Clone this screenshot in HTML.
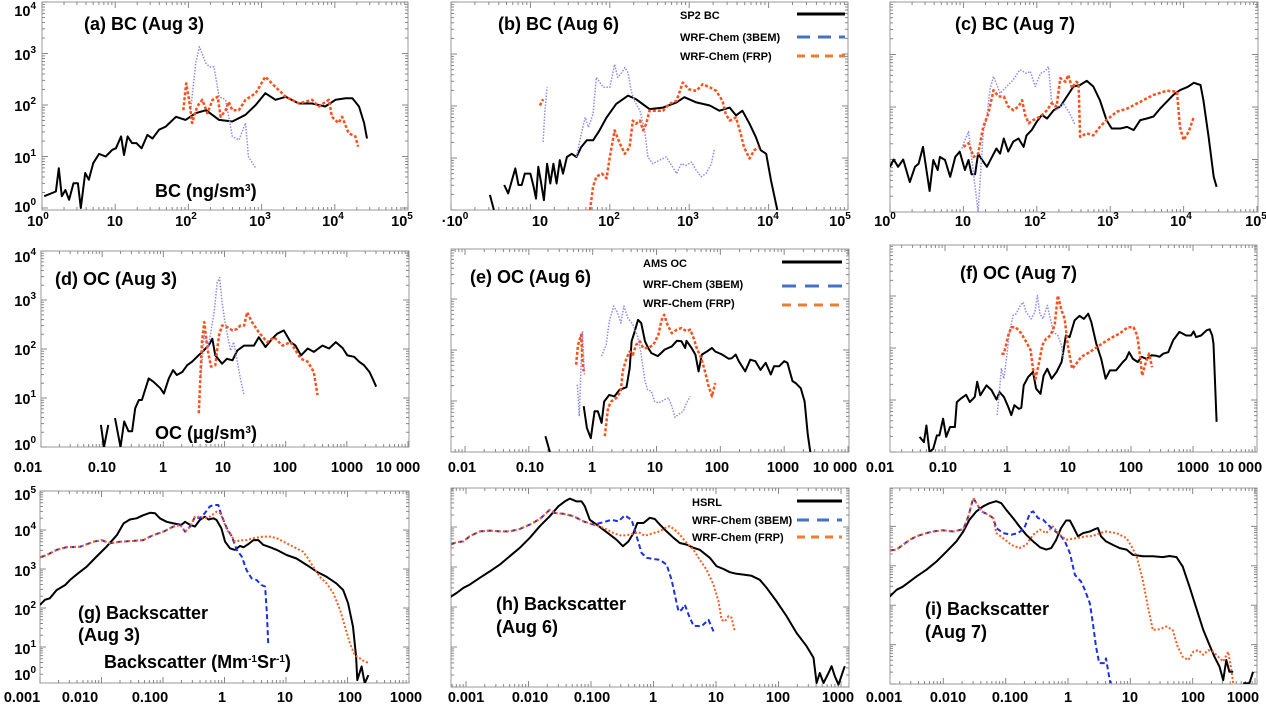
<!DOCTYPE html>
<html><head><meta charset="utf-8"><style>
html,body{margin:0;padding:0;background:#fff;}
svg{display:block;font-family:"Liberation Sans",Arial,sans-serif;}
.t{font-weight:bold;font-size:18px;fill:#000;}
.tk{font-weight:bold;font-size:14.5px;fill:#000;}
.lg{font-weight:bold;font-size:11px;fill:#000;}
</style></head><body>
<svg id="fig" width="1266" height="707" viewBox="0 0 1266 707" xmlns="http://www.w3.org/2000/svg">
<g id="marks"></g>
<!-- titles -->
<text class="t" x="84" y="30">(a) BC (Aug 3)</text>
<text class="t" x="498" y="30">(b) BC (Aug 6)</text>
<text class="t" x="955" y="30">(c) BC (Aug 7)</text>
<text class="t" x="55" y="285">(d) OC (Aug 3)</text>
<text class="t" x="470" y="283">(e) OC (Aug 6)</text>
<text class="t" x="960" y="279">(f) OC (Aug 7)</text>
<g><text class="t" x="78" y="619">(g) Backscatter</text><text class="t" x="78" y="641">(Aug 3)</text></g>
<g><text class="t" x="496" y="610">(h) Backscatter</text><text class="t" x="496" y="633">(Aug 6)</text></g>
<g><text class="t" x="925" y="615">(i) Backscatter</text><text class="t" x="925" y="638">(Aug 7)</text></g>
<text class="t" x="155" y="197" font-size="16">BC (ng/sm<tspan dy="-6" font-size="10">3</tspan><tspan dy="6">)</tspan></text>
<text class="t" x="155" y="439" font-size="16">OC (µg/sm<tspan dy="-6" font-size="10">3</tspan><tspan dy="6">)</tspan></text>
<text class="t" x="104" y="668" font-size="16">Backscatter (Mm<tspan dy="-6" font-size="10">-1</tspan><tspan dy="6">Sr</tspan><tspan dy="-6" font-size="10">-1</tspan><tspan dy="6">)</tspan></text>
<!-- legends -->
<g>
<text class="lg" x="680" y="19">SP2 BC</text><line x1="797" y1="14" x2="845" y2="14" stroke="#000" stroke-width="3"/>
<text class="lg" x="680" y="41">WRF-Chem (3BEM)</text><line x1="797" y1="37" x2="845" y2="37" stroke="#4472c4" stroke-width="3" stroke-dasharray="13,8"/>
<text class="lg" x="680" y="60">WRF-Chem (FRP)</text><line x1="797" y1="56" x2="845" y2="56" stroke="#ed7d31" stroke-width="3" stroke-dasharray="8,6"/>
</g>
<g>
<text class="lg" x="643" y="267" font-size="12">AMS OC</text><line x1="782" y1="262" x2="842" y2="262" stroke="#000" stroke-width="3"/>
<text class="lg" x="643" y="288" font-size="12">WRF-Chem (3BEM)</text><line x1="782" y1="286" x2="842" y2="286" stroke="#4472c4" stroke-width="3" stroke-dasharray="14,9"/>
<text class="lg" x="643" y="307" font-size="12">WRF-Chem (FRP)</text><line x1="782" y1="305" x2="842" y2="305" stroke="#ed7d31" stroke-width="3" stroke-dasharray="9,7"/>
</g>
<g>
<text class="lg" x="692" y="506">HSRL</text><line x1="797" y1="501" x2="842" y2="501" stroke="#000" stroke-width="3"/>
<text class="lg" x="692" y="524">WRF-Chem (3BEM)</text><line x1="797" y1="520" x2="842" y2="520" stroke="#4472c4" stroke-width="3" stroke-dasharray="12,8"/>
<text class="lg" x="692" y="541">WRF-Chem (FRP)</text><line x1="797" y1="537" x2="842" y2="537" stroke="#ed7d31" stroke-width="3" stroke-dasharray="8,6"/>
</g>
<!-- x tick labels -->
<g class="tk" text-anchor="middle">
<text x="38" y="226">10<tspan dy="-7" font-size="10">0</tspan></text><text x="115" y="226">10</text><text x="186" y="226">10<tspan dy="-7" font-size="10">2</tspan></text><text x="260" y="226">10<tspan dy="-7" font-size="10">3</tspan></text><text x="333" y="226">10<tspan dy="-7" font-size="10">4</tspan></text><text x="402" y="226">10<tspan dy="-7" font-size="10">5</tspan></text>
<text x="455" y="226">·10<tspan dy="-7" font-size="10">0</tspan></text><text x="540" y="226">10</text><text x="609" y="226">10<tspan dy="-7" font-size="10">2</tspan></text><text x="688" y="226">10<tspan dy="-7" font-size="10">3</tspan></text><text x="768" y="226">10<tspan dy="-7" font-size="10">4</tspan></text><text x="840" y="226">10<tspan dy="-7" font-size="10">5</tspan></text>
<text x="885" y="226">10<tspan dy="-7" font-size="10">0</tspan></text><text x="963" y="226">10</text><text x="1035" y="226">10<tspan dy="-7" font-size="10">2</tspan></text><text x="1108" y="226">10<tspan dy="-7" font-size="10">3</tspan></text><text x="1181" y="226">10<tspan dy="-7" font-size="10">4</tspan></text><text x="1256" y="226">10<tspan dy="-7" font-size="10">5</tspan></text>
</g>
<g class="tk" text-anchor="middle">
<text x="28" y="472">0.01</text><text x="102" y="472">0.10</text><text x="163" y="472">1</text><text x="223" y="472">10</text><text x="285" y="472">100</text><text x="347" y="472">1000</text><text x="398" y="472">10 000</text>
<text x="462" y="472">0.01</text><text x="530" y="472">0.10</text><text x="592" y="472">1</text><text x="655" y="472">10</text><text x="717" y="472">100</text><text x="783" y="472">1000</text><text x="835" y="472">10 000</text>
<text x="880" y="472">0.01</text><text x="943" y="472">0.10</text><text x="1007" y="472">1</text><text x="1068" y="472">10</text><text x="1131" y="472">100</text><text x="1193" y="472">1000</text><text x="1240" y="472">10 000</text>
</g>
<g class="tk" text-anchor="middle">
<text x="22" y="702">0.001</text><text x="80" y="702">0.010</text><text x="150" y="702">0.100</text><text x="222" y="702">1</text><text x="285" y="702">10</text><text x="350" y="702">100</text><text x="406" y="702">1000</text>
<text x="466" y="702">0.001</text><text x="530" y="702">0.010</text><text x="592" y="702">0.100</text><text x="653" y="702">1</text><text x="716" y="702">10</text><text x="778" y="702">100</text><text x="838" y="702">1000</text>
<text x="884" y="702">0.001</text><text x="948" y="702">0.010</text><text x="1010" y="702">0.100</text><text x="1068" y="702">1</text><text x="1130" y="702">10</text><text x="1193" y="702">100</text><text x="1243" y="702">1000</text>
</g>
<!-- y tick labels -->
<g class="tk" text-anchor="end">
<text x="36" y="16">10<tspan dy="-7" font-size="10">4</tspan></text><text x="36" y="60">10<tspan dy="-7" font-size="10">3</tspan></text><text x="36" y="111">10<tspan dy="-7" font-size="10">2</tspan></text><text x="36" y="163">10<tspan dy="-7" font-size="10">1</tspan></text><text x="36" y="212">10<tspan dy="-7" font-size="10">0</tspan></text>
</g>
<g class="tk" text-anchor="end">
<text x="36" y="262">10<tspan dy="-7" font-size="10">4</tspan></text><text x="36" y="306">10<tspan dy="-7" font-size="10">3</tspan></text><text x="36" y="355">10<tspan dy="-7" font-size="10">2</tspan></text><text x="36" y="404">10<tspan dy="-7" font-size="10">1</tspan></text><text x="36" y="450">10<tspan dy="-7" font-size="10">0</tspan></text>
</g>
<g class="tk" text-anchor="end">
<text x="36" y="500">10<tspan dy="-7" font-size="10">5</tspan></text><text x="36" y="536">10<tspan dy="-7" font-size="10">4</tspan></text><text x="36" y="576">10<tspan dy="-7" font-size="10">3</tspan></text><text x="36" y="615">10<tspan dy="-7" font-size="10">2</tspan></text><text x="36" y="654">10<tspan dy="-7" font-size="10">1</tspan></text><text x="36" y="680">10<tspan dy="-7" font-size="10">0</tspan></text>
</g>
</svg>
<script>
// ===== DATA (log10 x, log10 y; null = gap) =====
const a_obs_lx=[0.03,0.19,0.23,0.27,0.32,0.37,0.43,0.49,0.53,0.59,0.64,0.70,0.78,0.87,0.96,1.01,1.08,1.12,1.17,1.23,1.29,1.36,1.44,1.51,1.6,1.69,1.83,1.96,2.1,2.24,2.42,2.6,2.78,2.92,3.05,3.19,3.33,3.51,3.69,3.87,4.01,4.15,4.24,4.33,4.4,4.44];
const a_obs_ly=[0.23,0.32,0.77,0.23,0.35,0.16,0.48,0.48,0.0,0.68,0.55,0.87,1.05,1.0,1.13,1.16,1.39,1.03,1.39,1.26,1.26,1.16,1.42,1.35,1.52,1.58,1.77,1.71,1.84,1.9,1.71,1.68,1.81,2.0,2.23,2.1,2.16,2.03,2.03,1.97,2.1,2.13,2.13,1.97,1.65,1.35];
const a_3bem_lx=[2.03,2.1,2.15,2.24,2.29,2.35,2.42,2.51,2.6,2.69,2.78,2.82,2.92];
const a_3bem_ly=[1.9,2.81,3.13,2.81,2.74,2.74,2.16,2.1,1.39,1.32,1.65,1.0,0.77];
const a_frp_lx=[1.93,1.97,2.01,2.05,2.12,2.19,2.26,2.33,2.4,2.44,2.51,2.55,2.6,2.69,2.78,2.92,3.05,3.19,3.33,3.51,3.69,3.78,3.92,3.96,4.05,4.1,4.19,4.28,4.32];
const a_frp_ly=[1.9,2.42,2.1,1.65,1.97,2.1,1.84,2.1,2.16,1.77,1.9,2.06,1.9,1.9,2.1,2.23,2.55,2.35,2.16,2.03,2.1,1.97,2.1,1.77,1.65,1.77,1.45,1.39,1.19];

const b_obs_lx=[0.49,0.54,null,0.67,0.72,0.81,0.85,0.89,0.93,1.0,1.04,1.07,1.1,1.13,1.17,1.21,1.25,1.29,1.33,1.37,1.41,1.46,1.52,1.58,1.64,1.71,1.79,1.87,1.96,2.08,2.23,2.33,2.5,2.67,2.84,2.94,3.09,3.26,3.38,3.51,3.59,3.67,3.76,3.84,3.9,3.97,4.03,4.11];
const b_obs_ly=[0.29,0,null,0.48,0.32,0.8,0.48,0.48,0.7,0.7,0.45,0.22,0.83,0.57,0.19,0.89,0.51,0.89,0.51,0.96,0.7,1.02,1.08,1.02,1.21,1.34,1.34,1.53,1.78,2.04,2.2,2.13,1.94,1.97,2.07,2.17,2.07,2.01,1.91,1.97,1.82,1.91,1.66,1.4,1.15,1.08,0.57,0];
const b_3bem_lx=[1.16,1.18,1.21,null,1.58,1.64,1.69,1.73,1.79,1.83,1.92,2.0,2.06,2.1,2.15,2.19,2.23,2.27,2.31,2.38,2.44,2.48,2.54,2.63,2.71,2.79,2.84,2.9,2.96,3.03,3.09,3.15,3.21,3.28,3.32];
const b_3bem_ly=[1.31,1.85,2.36,null,1.02,1.46,1.78,1.59,1.85,2.55,2.36,2.36,2.8,2.55,2.64,2.74,2.64,2.29,2.1,1.91,1.53,1.02,0.89,0.96,1.02,0.83,0.7,0.89,0.86,0.92,0.76,0.64,0.7,0.89,1.18];
const b_frp_lx=[1.12,1.16,null,1.75,1.79,1.83,1.9,1.96,2.0,2.06,2.13,2.19,2.25,2.29,2.33,2.38,2.42,2.46,2.5,2.59,2.67,2.75,2.84,2.92,3.0,3.09,3.17,3.26,3.34,3.42,3.46,3.51,3.59,3.65,3.69,3.76,3.82,3.88];
const b_frp_ly=[2.01,2.13,null,0,0.45,0.64,0.7,0.61,1.02,1.53,1.27,1.08,1.21,1.72,1.66,1.72,1.53,1.66,1.91,1.91,1.91,2.04,2.1,2.45,2.32,2.29,2.42,2.36,2.29,2.1,1.85,1.72,1.78,1.46,1.21,0.99,1.15,1.21];

const c_obs_lx=[0,0.05,0.11,0.18,0.27,0.34,0.39,0.45,0.54,0.59,0.65,0.68,0.75,0.82,0.89,0.95,1.02,1.07,1.11,1.16,1.2,1.25,1.32,1.39,1.45,1.5,1.55,1.61,1.68,1.75,1.82,1.86,1.93,2.0,2.07,2.14,2.23,2.32,2.41,2.5,2.59,2.68,2.77,2.86,2.95,3.02,3.14,3.23,3.32,3.41,3.5,3.59,3.68,3.77,3.86,3.95,4.05,4.14,4.23,4.27,4.34,4.41,4.45];
const c_obs_ly=[0.86,1.0,0.86,1.0,0.57,0.86,0.92,1.24,0.4,0.99,0.8,1.05,0.99,0.67,1.05,1.15,0.8,0.99,0.72,0.72,1.11,1.0,0.86,1.05,1.21,1.11,1.4,1.15,1.34,1.4,1.24,1.46,1.56,1.72,1.85,1.78,1.94,2.01,2.2,2.39,2.42,2.5,2.39,2.13,1.75,1.59,1.59,1.62,1.56,1.75,1.78,1.82,1.97,2.1,2.23,2.32,2.38,2.46,2.42,2.13,1.43,0.67,0.48];
const c_3bem_lx=[0.98,1.02,1.07,1.11,1.16,1.2,1.24,1.27,1.32,1.36,1.41,1.45,1.5,1.59,1.68,1.77,1.86,1.91,1.98,2.05,2.11,2.16,2.2,2.27,2.36,2.45,2.52];
const c_3bem_ly=[1.21,1.37,1.53,1.05,0.48,0,0.86,1.5,1.82,2.32,2.58,2.45,2.26,2.39,2.52,2.71,2.64,2.68,2.39,2.64,2.68,2.77,2.13,1.94,2.07,1.88,1.66];
const c_frp_lx=[1.0,1.07,1.14,1.2,1.27,1.34,1.41,1.48,1.55,1.61,1.68,1.75,1.8,1.84,1.89,1.95,2.05,2.14,2.2,2.27,2.32,2.39,2.43,2.48,2.54,2.57,2.59,2.68,2.77,2.86,2.95,3.09,3.23,3.41,3.59,3.77,3.91,3.95,4.0,4.07,4.14];
const c_frp_ly=[1.24,1.31,1.05,1.11,1.62,1.88,2.32,2.2,2.2,2.01,1.94,2.01,2.13,1.85,1.69,1.75,1.82,1.94,2.07,2.01,2.55,2.48,2.61,2.36,2.48,2.45,1.43,1.5,1.46,1.62,1.75,1.91,1.97,2.1,2.23,2.31,2.29,1.62,1.37,1.53,1.82];

const d_obs_lx=[-1.02,-0.97,-0.9,null,-0.79,-0.7,-0.64,-0.57,-0.51,-0.46,-0.4,-0.35,-0.24,-0.16,-0.05,0.01,0.09,0.16,0.22,0.31,0.39,0.47,0.55,0.66,0.74,0.8,0.85,0.96,1.04,1.13,1.21,1.32,1.48,1.56,1.67,1.78,1.86,1.97,2.08,2.16,2.25,2.36,2.46,2.6,2.71,2.82,2.93,3.01,3.12,3.2,3.28,3.37,3.42,3.48];
const d_obs_ly=[0.45,0,0.45,null,0.59,0,0.52,0.32,0.32,0.79,0.96,0.96,1.4,1.33,1.2,1.09,1.4,1.57,1.47,1.53,1.67,1.74,1.84,1.97,2.07,2.21,1.87,1.7,1.8,1.77,1.97,2.07,2.07,2.24,2.04,2.21,2.31,2.38,2.14,2.07,1.87,2.01,1.94,2.07,2.01,2.14,2.02,1.87,1.84,1.74,1.67,1.53,1.4,1.23];
const d_3bem_lx=[0.61,0.67,0.74,0.83,0.88,0.92,0.96,1.0,1.04,1.1,1.15,1.21,1.26,1.32];
const d_3bem_ly=[1.4,2.28,2.07,2.75,3.36,3.46,2.95,2.61,2.34,1.97,2.14,1.74,1.4,1.06];
const d_frp_lx=[0.58,0.63,0.67,0.72,0.78,0.85,0.91,0.96,1.04,1.13,1.21,1.26,1.32,1.37,1.45,1.56,1.7,1.81,1.95,2.08,2.16,2.25,2.36,2.46,2.52];
const d_frp_ly=[0.69,2.14,2.55,2.01,1.64,1.67,2.28,2.48,2.45,2.38,2.41,2.48,2.48,2.75,2.55,2.34,2.14,2.24,2.07,2.14,1.97,1.8,1.74,1.53,1.06];

const e_obs_lx=[-0.74,-0.67,null,-0.14,-0.09,-0.03,0.03,0.08,0.14,0.18,0.26,0.34,0.42,0.53,0.58,0.61,0.66,0.71,0.76,0.82,0.87,0.92,1.02,1.13,1.24,1.32,1.39,1.45,1.47,1.55,1.61,1.66,1.71,1.79,1.87,1.92,2.03,2.13,2.18,2.24,2.29,2.39,2.47,2.55,2.63,2.71,2.79,2.84,2.92,3.0,3.05,3.13,3.18,3.26,3.32,3.37,3.41];
const e_obs_ly=[0.31,0,null,0.9,0.47,0.27,0.8,0.8,0.57,0.99,1.12,1.09,1.22,1.27,1.65,2.17,2.37,2.59,2.53,2.17,2.04,1.94,1.88,2.01,2.07,2.18,2.17,2.04,2.18,2.04,1.91,1.58,1.91,1.97,2.04,1.97,1.91,1.83,1.84,1.91,1.78,1.58,1.81,1.78,1.61,1.75,1.52,1.68,1.68,1.78,1.75,1.39,1.35,1.25,0.99,0.34,0];
const e_3bem_lx=[-0.24,-0.21,-0.18,-0.16,-0.13,null,0.14,0.21,0.26,0.33,0.39,0.44,0.49,0.55,0.63,0.71,0.76,0.82,0.86,0.92,0.97,1.03,1.13,1.19,1.24,1.29,1.34,1.42,1.47,1.53];
const e_3bem_ly=[1.32,0.7,1.78,2.37,1.52,null,1.88,2.1,2.56,2.86,2.73,2.53,2.86,2.63,2.5,2.24,1.91,1.39,1.22,1.19,0.99,0.96,1.03,1.06,0.9,0.68,0.73,0.8,0.96,1.09];
const e_frp_lx=[-0.26,-0.23,-0.18,-0.16,-0.14,null,0.19,0.24,0.29,0.37,0.44,0.47,0.53,0.58,0.63,0.68,0.74,0.79,0.87,0.95,1.03,1.08,1.12,1.17,1.24,1.32,1.39,1.47,1.53,1.58,1.63,1.7,1.76,1.81,1.87,1.92];
const e_frp_ly=[1.71,2.1,2.3,1.78,1.58,null,0.31,0.86,0.99,1.06,1.19,1.58,1.84,1.97,1.91,2.1,2.17,2.04,2.04,2.1,2.3,2.59,2.69,2.5,2.33,2.4,2.43,2.37,2.4,2.24,2.04,1.84,1.58,1.32,1.09,1.35];

const f_obs_lx=[-1.41,-1.34,-1.3,-1.25,-1.19,-1.13,-1.09,-1.03,-0.98,-0.92,-0.84,-0.81,-0.74,-0.66,-0.6,-0.52,-0.48,-0.43,-0.33,-0.25,-0.17,-0.12,-0.05,0.02,0.07,0.12,0.19,0.23,0.27,0.34,0.42,0.47,0.54,0.59,0.65,0.72,0.8,0.88,0.95,1.01,1.09,1.17,1.24,1.31,1.36,1.44,1.52,1.59,1.66,1.76,1.87,1.92,1.97,2.03,2.11,2.17,2.25,2.33,2.41,2.46,2.52,2.6,2.68,2.78,2.89,2.97,3.01,3.05,3.13,3.22,3.27,3.31,3.33,3.38];
const f_obs_ly=[0.29,0.19,0.51,0,0.06,0.32,0.32,0.64,0.29,0.48,0.48,0.96,1.03,1.1,0.96,1.06,1.35,1.09,1.28,1.19,1.01,1.15,1.06,0.87,0.71,0.9,0.83,0.85,1.28,1.44,1.54,1.22,1.12,1.47,1.6,1.41,1.54,1.73,2.24,2.21,2.53,2.62,2.56,2.66,2.5,2.08,1.79,1.41,1.57,1.57,1.73,1.79,1.92,1.79,1.73,1.83,1.79,1.86,1.85,1.83,1.89,1.92,2.15,2.31,2.24,2.24,2.32,2.21,2.24,2.34,2.36,2.24,2.08,0.58];
const f_3bem_lx=[-0.16,-0.12,-0.09,-0.05,-0.01,0.04,0.1,0.15,0.2,0.26,0.31,0.39,0.45,0.49,0.53,0.58,0.65,0.7,0.75,0.82,0.88,0.91];
const f_3bem_ly=[0.71,1.22,1.6,1.41,1.79,2.31,2.63,2.66,2.79,2.88,2.69,2.56,2.69,3.01,2.66,2.56,2.82,2.56,2.31,2.24,2.05,1.79];
const f_frp_lx=[-0.09,-0.05,0.02,0.07,0.14,0.23,0.31,0.38,0.42,0.46,0.52,0.57,0.63,0.7,0.77,0.82,0.88,0.93,0.98,1.05,1.12,1.2,1.33,1.49,1.66,1.82,1.95,2.04,2.1,2.14,2.18,2.24,2.29,2.34];
const f_frp_ly=[1.89,1.89,2.24,2.4,2.4,2.28,2.12,1.96,1.6,1.41,1.73,2.05,2.18,2.24,2.44,3.01,2.72,2.56,2.05,1.6,1.7,1.83,1.92,2.05,2.18,2.28,2.4,2.4,2.24,1.89,1.47,1.73,1.89,1.63];

const g_obs_lx=[-3,-2.92,-2.84,-2.73,-2.59,-2.51,-2.38,-2.24,-2.08,-1.92,-1.75,-1.64,-1.54,-1.43,-1.32,-1.21,-1.13,-1.05,-0.94,-0.83,-0.7,-0.64,-0.56,-0.48,-0.4,-0.32,-0.26,-0.18,-0.13,-0.05,0.01,0.09,0.17,0.25,0.31,0.39,0.47,0.55,0.63,0.74,0.85,1.01,1.17,1.34,1.5,1.66,1.82,1.93,2.01,2.09,2.14,2.16,2.23,2.28,2.34];
const g_obs_ly=[2.08,2.21,2.25,2.46,2.59,2.72,2.89,3.06,3.32,3.57,3.87,4.17,4.27,4.3,4.38,4.44,4.43,4.3,4.21,4.17,4.13,4.21,4.13,4.09,4.26,4.34,4.27,4.3,4.26,4.04,3.7,3.53,3.49,3.59,3.56,3.64,3.74,3.74,3.62,3.56,3.49,3.36,3.27,3.1,2.93,2.8,2.63,2.46,2.12,1.52,0.75,0.15,0.5,0.07,0.28];
const g_3bem_lx=[-3,-2.89,-2.73,-2.57,-2.35,-2.13,-2.0,-1.86,-1.7,-1.48,-1.32,-1.16,-0.99,-0.83,-0.72,-0.64,-0.56,-0.48,-0.4,-0.32,-0.24,-0.18,-0.1,-0.05,0.04,0.12,0.2,0.28,0.36,0.44,0.52,0.6,0.66,0.69,0.71];
const g_3bem_ly=[3.3,3.36,3.49,3.56,3.57,3.7,3.74,3.66,3.7,3.72,3.74,3.87,3.96,4.09,4.13,3.96,4.09,4.34,4.3,4.43,4.6,4.64,4.64,4.38,4.04,3.83,3.49,3.32,2.97,2.76,2.72,2.59,2.55,1.86,1.09];
const g_frp_lx=[-3,-2.89,-2.73,-2.57,-2.35,-2.13,-2.0,-1.86,-1.7,-1.48,-1.32,-1.16,-0.99,-0.83,-0.72,-0.64,-0.56,-0.48,-0.4,-0.32,-0.24,-0.13,-0.07,-0.02,0.04,0.12,0.17,0.25,0.36,0.47,0.63,0.74,0.85,1.01,1.17,1.28,1.36,1.44,1.55,1.66,1.77,1.88,1.96,2.04,2.12,2.2,2.28,2.34];
const g_frp_ly=[3.3,3.36,3.49,3.56,3.57,3.7,3.74,3.66,3.7,3.72,3.74,3.87,3.96,4.09,4.13,3.96,4.09,4.34,4.34,4.3,4.34,4.47,4.43,4.26,4.0,3.83,3.7,3.73,3.74,3.79,3.83,3.83,3.79,3.66,3.53,3.44,3.27,3.06,2.8,2.63,2.38,1.95,1.52,1.09,0.79,0.71,0.62,0.6];

const h_obs_lx=[-3.25,-3.15,-3.04,-2.94,-2.78,-2.62,-2.46,-2.3,-2.14,-1.98,-1.82,-1.66,-1.52,-1.42,-1.34,-1.23,-1.15,-1.1,-1.02,-0.91,-0.8,-0.7,-0.59,-0.49,-0.4,-0.32,-0.26,-0.16,-0.06,0.02,0.1,0.21,0.32,0.42,0.53,0.64,0.74,0.9,1.01,1.12,1.22,1.33,1.44,1.57,1.7,1.81,1.97,2.13,2.29,2.45,2.56,2.61,2.66,2.72,2.8,2.85,2.9,2.96,3.04,3.06];
const h_obs_ly=[2.25,2.35,2.48,2.56,2.73,2.89,3.06,3.27,3.48,3.73,4.02,4.27,4.52,4.64,4.71,4.64,4.64,4.52,4.18,4.06,3.93,3.81,3.68,3.52,3.64,3.85,4.1,4.1,4.23,4.2,4.06,3.89,3.73,3.6,3.56,3.48,3.43,3.23,3.02,2.95,2.87,2.83,2.81,2.78,2.68,2.48,2.14,1.77,1.35,1.02,0.73,0.1,0.35,0.1,0.35,0.52,0.27,0.06,0.43,0.52];
const h_3bem_lx=[-3.25,-3.15,-3.04,-2.94,-2.78,-2.62,-2.46,-2.3,-2.14,-1.98,-1.82,-1.66,-1.58,-1.44,-1.28,-1.12,-0.96,-0.8,-0.67,-0.56,-0.46,-0.35,-0.27,-0.19,-0.11,0,0.1,0.21,0.29,0.34,0.4,0.45,0.5,0.56,0.64,0.77,0.88,0.96];
const h_3bem_ly=[3.56,3.62,3.64,3.77,3.89,3.91,3.89,3.89,3.95,4.06,4.2,4.43,4.35,4.33,4.27,4.14,4.06,4.12,4.18,4.14,4.29,4.18,3.77,3.35,3.23,3.2,3.18,3.06,2.68,2.31,1.89,1.93,2.06,1.81,1.53,1.52,1.68,1.39];
const h_frp_lx=[-3.25,-3.15,-3.04,-2.94,-2.78,-2.62,-2.46,-2.3,-2.14,-1.98,-1.82,-1.66,-1.58,-1.44,-1.28,-1.12,-0.96,-0.8,-0.64,-0.51,-0.38,-0.24,-0.14,0,0.1,0.21,0.26,0.34,0.42,0.53,0.64,0.74,0.85,0.96,1.04,1.09,1.14,1.2,1.25,1.3];
const h_frp_ly=[3.56,3.62,3.64,3.77,3.89,3.91,3.89,3.89,3.95,4.06,4.2,4.43,4.35,4.33,4.27,4.14,4.06,3.98,3.85,3.78,3.81,3.87,3.78,3.85,3.89,4.0,4.02,3.93,3.81,3.6,3.43,3.18,2.93,2.56,2.14,1.68,1.64,1.77,1.73,1.39];

const i_obs_lx=[-2.86,-2.75,-2.65,-2.54,-2.43,-2.27,-2.11,-1.95,-1.79,-1.68,-1.58,-1.47,-1.36,-1.26,-1.15,-1.07,-0.99,-0.88,-0.78,-0.67,-0.56,-0.45,-0.35,-0.27,-0.19,-0.11,-0.03,0.03,0.08,0.16,0.24,0.35,0.43,0.48,0.53,0.61,0.72,0.83,0.94,1.04,1.2,1.36,1.52,1.63,1.74,1.84,1.95,2.06,2.17,2.27,2.35,2.43,2.49,2.54,2.59,2.65,null,2.81,2.91,2.97];
const i_obs_ly=[2.22,2.39,2.47,2.6,2.73,2.9,3.11,3.36,3.62,3.87,4.17,4.38,4.51,4.59,4.64,4.59,4.42,4.21,4.0,3.79,3.62,3.47,3.41,3.45,3.66,3.96,4.15,4.15,4.0,3.75,3.83,3.87,3.93,3.96,3.75,3.62,3.53,3.45,3.41,3.28,3.24,3.24,3.22,3.25,3.22,2.98,2.47,1.92,1.37,0.99,0.69,0.44,0.1,0.61,0.31,0.31,null,0.02,0.02,0.31];
const i_3bem_lx=[-2.86,-2.75,-2.65,-2.54,-2.43,-2.27,-2.17,-2.01,-1.84,-1.68,-1.6,-1.52,-1.47,-1.39,-1.28,-1.2,-1.15,-1.04,-0.91,-0.8,-0.7,-0.61,-0.56,-0.48,-0.4,-0.32,-0.24,-0.13,-0.05,0.03,0.11,0.21,0.27,0.35,0.4,0.45,0.5,0.59,0.61,0.66,0.68];
const i_3bem_ly=[3.39,3.41,3.53,3.66,3.75,3.83,3.87,3.9,3.87,3.93,4.25,4.72,4.59,4.38,4.3,4.21,3.96,3.83,3.79,3.83,3.96,4.34,4.38,4.21,4.17,4.04,3.92,3.79,3.62,3.32,2.77,2.6,2.39,2.05,1.54,0.95,0.53,0.53,0.65,0.19,0.02];
const i_frp_lx=[-2.86,-2.75,-2.65,-2.54,-2.43,-2.27,-2.17,-2.01,-1.84,-1.68,-1.6,-1.52,-1.47,-1.39,-1.28,-1.2,-1.15,-1.04,-0.91,-0.78,-0.67,-0.56,-0.45,-0.35,-0.24,-0.13,-0.03,0.13,0.29,0.4,0.51,0.61,0.78,0.94,1.02,1.1,1.2,1.28,1.36,1.47,1.58,1.68,1.76,1.84,1.93,2.01,2.09,2.17,2.25,2.33,2.41,2.49,2.57,2.62,2.65];
const i_frp_ly=[3.39,3.41,3.53,3.66,3.75,3.83,3.87,3.9,3.87,3.93,4.25,4.72,4.59,4.38,4.3,4.21,3.83,3.7,3.53,3.45,3.53,3.79,3.92,3.83,4.0,3.79,3.66,3.7,3.75,3.76,3.83,3.87,3.83,3.7,3.49,3.24,2.64,1.97,1.37,1.39,1.46,1.37,0.95,0.69,0.61,0.82,0.86,0.74,0.86,0.82,0.69,0.57,0.82,0.36,0.02];

// ===== layout (pixel geometry, not data) =====
const panels=[
 {id:'a',box:[42,2,408,210],xr:[0,5],xp:[42,408],yr:[0,4],yp:[208,2]},
 {id:'b',box:[451,2,848,210],xr:[0,5],xp:[451,848],yr:[0,4],yp:[210,2]},
 {id:'c',box:[890,2,1258,212],xr:[0,5],xp:[890,1257],yr:[0,4],yp:[212,2]},
 {id:'d',box:[41,251,409,447],xr:[-2,4],xp:[41,408],yr:[0,4],yp:[447,251]},
 {id:'e',box:[451,249,849,452],xr:[-2,4],xp:[465,848],yr:[0,4],yp:[452,248]},
 {id:'f',box:[890,245,1257,452],xr:[-2,4],xp:[883,1255],yr:[0,4],yp:[452,244]},
 {id:'g',box:[40,491,409,683],xr:[-3,3],xp:[40,409],yr:[0,5],yp:[686,491]},
 {id:'h',box:[451,488,849,687],xr:[-3,3],xp:[466,841],yr:[0,5],yp:[687,487]},
 {id:'i',box:[890,488,1257,684],xr:[-3,3],xp:[881,1255],yr:[0,5],yp:[684,487]}
];
const seriesByPanel={
 a:[[a_obs_lx,a_obs_ly,'obs'],[a_3bem_lx,a_3bem_ly,'m1'],[a_frp_lx,a_frp_ly,'frp']],
 b:[[b_obs_lx,b_obs_ly,'obs'],[b_3bem_lx,b_3bem_ly,'m1'],[b_frp_lx,b_frp_ly,'frp']],
 c:[[c_obs_lx,c_obs_ly,'obs'],[c_3bem_lx,c_3bem_ly,'m1'],[c_frp_lx,c_frp_ly,'frp']],
 d:[[d_obs_lx,d_obs_ly,'obs'],[d_3bem_lx,d_3bem_ly,'m1'],[d_frp_lx,d_frp_ly,'frp']],
 e:[[e_obs_lx,e_obs_ly,'obs'],[e_3bem_lx,e_3bem_ly,'m1'],[e_frp_lx,e_frp_ly,'frp']],
 f:[[f_obs_lx,f_obs_ly,'obs'],[f_3bem_lx,f_3bem_ly,'m1'],[f_frp_lx,f_frp_ly,'frp']],
 g:[[g_obs_lx,g_obs_ly,'obs'],[g_3bem_lx,g_3bem_ly,'m3'],[g_frp_lx,g_frp_ly,'frp3']],
 h:[[h_obs_lx,h_obs_ly,'obs'],[h_3bem_lx,h_3bem_ly,'m3'],[h_frp_lx,h_frp_ly,'frp3']],
 i:[[i_obs_lx,i_obs_ly,'obs'],[i_3bem_lx,i_3bem_ly,'m3'],[i_frp_lx,i_frp_ly,'frp3']]
};
const styles={
 obs:{stroke:'#000',w:2,dash:''},
 m1:{stroke:'#8c8cf2',w:1.5,dash:'1.5,1.5'},
 frp:{stroke:'#ff4f1a',w:2.5,dash:'3,2'},
 m3:{stroke:'#1a2fe6',w:2,dash:'5,3'},
 frp3:{stroke:'#ff5a1e',w:2,dash:'2,2'}
};
const NS='http://www.w3.org/2000/svg';
const root=document.getElementById('marks');
function el(tag){return document.createElementNS(NS,tag);}
panels.forEach(p=>{
 const sx=v=>p.xp[0]+(v-p.xr[0])*(p.xp[1]-p.xp[0])/(p.xr[1]-p.xr[0]);
 const sy=v=>p.yp[0]+(v-p.yr[0])*(p.yp[1]-p.yp[0])/(p.yr[1]-p.yr[0]);
 const g=el('g');
 
 
 root.appendChild(g);
 const [x0,y0,x1,y1]=p.box;
 const cp=el('clipPath'); cp.setAttribute('id','clip-'+p.id);
 const cr=el('rect'); cr.setAttribute('x',x0);cr.setAttribute('y',y0);cr.setAttribute('width',x1-x0);cr.setAttribute('height',y1-y0);
 cp.appendChild(cr); g.appendChild(cp);
 const frame=el('rect');
 
 
 frame.setAttribute('x',x0);frame.setAttribute('y',y0);frame.setAttribute('width',x1-x0);frame.setAttribute('height',y1-y0);
 frame.setAttribute('fill','none');frame.setAttribute('stroke','#999');frame.setAttribute('stroke-width','1');
 g.appendChild(frame);
 let d='';
 for(let k=Math.floor(p.xr[0])-1;k<=p.xr[1];k++){for(let m=1;m<10;m++){const v=k+Math.log10(m);const x=sx(v);if(x<x0||x>x1)continue;const L=m===1?6:3;d+=`M${x},${y1}v${-L}M${x},${y0}v${L}`;}}
 for(let k=p.yr[0];k<=p.yr[1];k++){for(let m=1;m<10;m++){const v=k+Math.log10(m);const y=sy(v);if(y<y0-0.5||y>y1+0.5)continue;const L=m===1?6:3;d+=`M${x0},${y}h${L}M${x1},${y}h${-L}`;}}
 const ticks=el('path');
 
 
 ticks.setAttribute('d',d);ticks.setAttribute('stroke','#888');ticks.setAttribute('stroke-width','1');ticks.setAttribute('fill','none');
 g.appendChild(ticks);
 const sg=el('g'); sg.setAttribute('clip-path','url(#clip-'+p.id+')'); g.appendChild(sg);
 seriesByPanel[p.id].forEach(s=>{
  const lx=s[0],ly=s[1],st=styles[s[2]];
  let pd='',pen=false;
  for(let j=0;j<lx.length;j++){
   if(lx[j]===null||ly[j]===null){pen=false;continue;}
   pd+=(pen?'L':'M')+sx(lx[j]).toFixed(1)+','+sy(ly[j]).toFixed(1);pen=true;
  }
  const path=el('path');
  
  
  path.setAttribute('d',pd);path.setAttribute('fill','none');path.setAttribute('stroke',st.stroke);
  path.setAttribute('stroke-width',st.w);path.setAttribute('stroke-linejoin','round');
  if(st.dash)path.setAttribute('stroke-dasharray',st.dash);
  sg.appendChild(path);
 });
});
</script>
</body></html>
